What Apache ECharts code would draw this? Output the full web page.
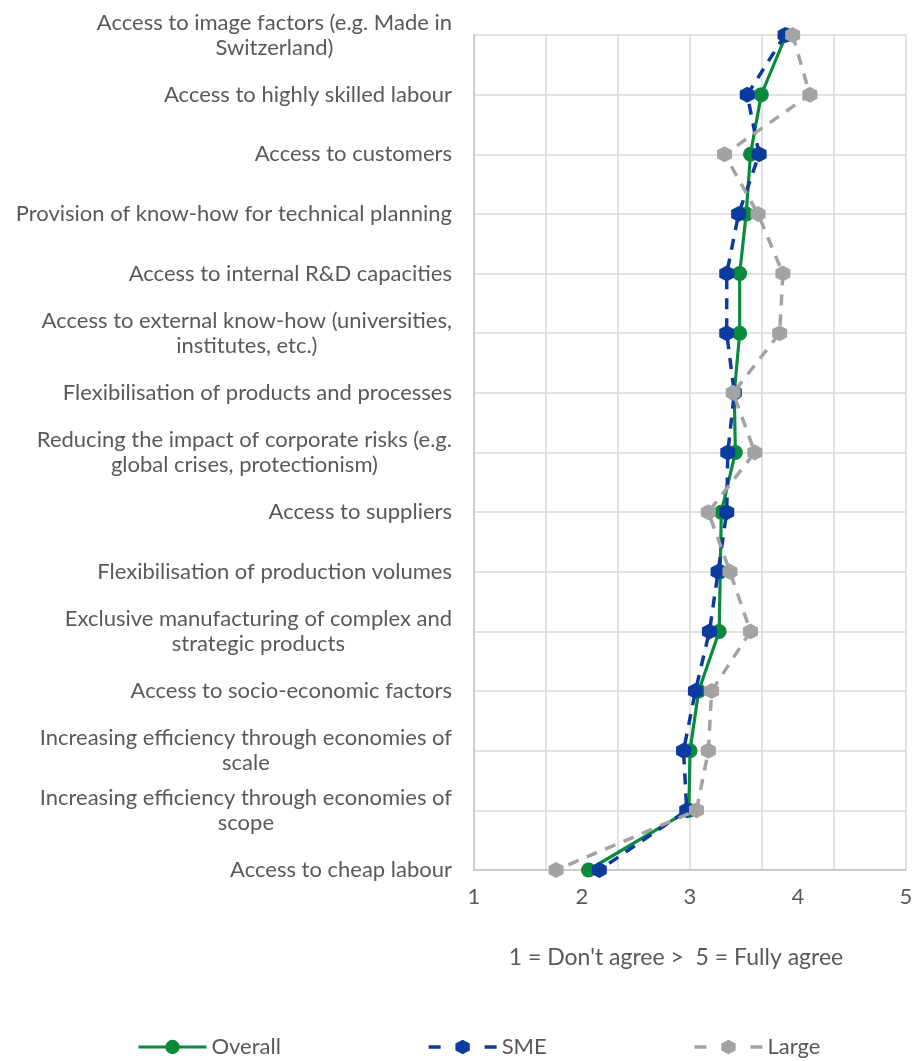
<!DOCTYPE html>
<html>
<head>
<meta charset="utf-8">
<style>
  html, body { margin: 0; padding: 0; background: #ffffff; }
  #chart { width: 916px; height: 1061px; }
</style>
<script src="https://cdn.jsdelivr.net/npm/echarts@6/dist/echarts.min.js"></script>
</head>
<body>
<div id="chart"></div>
<script>
// Location factors, listed top to bottom
const categories = [
  'Access to image factors (e.g. Made in\nSwitzerland)',
  'Access to highly skilled labour',
  'Access to customers',
  'Provision of know-how for technical planning',
  'Access to internal R&D capacities',
  'Access to external know-how (universities,\ninstitutes, etc.)',
  'Flexibilisation of products and processes',
  'Reducing the impact of corporate risks (e.g.\nglobal crises, protectionism)',
  'Access to suppliers',
  'Flexibilisation of production volumes',
  'Exclusive manufacturing of complex and\nstrategic products',
  'Access to socio-economic factors',
  'Increasing efficiency through economies of\nscale',
  'Increasing efficiency through economies of\nscope',
  'Access to cheap labour'
];

// Mean agreement scores (1 = don't agree, 5 = fully agree)
const overallValues = [3.89, 3.66, 3.56, 3.52, 3.46, 3.46, 3.41, 3.42, 3.29, 3.28, 3.27, 3.08, 3.00, 2.99, 2.06];
const smeValues     = [3.88, 3.53, 3.64, 3.45, 3.34, 3.34, 3.41, 3.35, 3.34, 3.26, 3.18, 3.05, 2.94, 2.97, 2.16];
const largeValues   = [3.95, 4.11, 3.32, 3.63, 3.86, 3.83, 3.40, 3.60, 3.17, 3.37, 3.56, 3.20, 3.17, 3.06, 1.76];

const seriesNames = ['Overall', 'SME', 'Large'];
const scaleTicks = ['1', '2', '3', '4', '5'];
const scaleCaption = "1 = Don't agree >  5 = Fully agree";

const FONT = 'Lato, "Open Sans", sans-serif';
const TEXT = '#595959';
const GREEN = '#0a8a3c';
const BLUE = '#0c3b9f';
const GREY = '#a3a3a3';
const HEX = 'path://M0,-10 L8.66,-5 L8.66,5 L0,10 L-8.66,5 L-8.66,-5 Z';

const chart = echarts.init(document.getElementById('chart'), null, { renderer: 'canvas' });

// values go on the horizontal axis, categories on the vertical one
const pairs = values => values.map((v, i) => [v, categories[i]]);

chart.setOption({
  backgroundColor: '#ffffff',
  animation: false,
  grid: { left: 474, right: 10, top: 35, bottom: 191, containLabel: false },
  xAxis: [
    {
      type: 'value', min: 1, max: 5, interval: 1,
      axisLine: { show: true, lineStyle: { color: '#c4c4c4', width: 1.5 } },
      axisTick: { show: false },
      splitLine: { show: false },
      axisLabel: {
        margin: 16, color: TEXT, fontSize: 22, fontFamily: FONT,
        formatter: v => scaleTicks[Math.round(v) - 1]
      }
    },
    {
      // finer vertical gridlines spanning the plot
      type: 'value', min: 0, max: 6, interval: 1, position: 'bottom',
      axisLine: { show: false }, axisTick: { show: false },
      axisLabel: { show: false },
      splitLine: { show: true, lineStyle: { color: '#d9d9d9', width: 1.5 } }
    }
  ],
  yAxis: {
    type: 'category',
    data: categories,
    inverse: true,
    boundaryGap: false,
    axisLine: { show: true, lineStyle: { color: '#c4c4c4', width: 1.5 } },
    axisTick: { show: false },
    splitLine: { show: true, lineStyle: { color: '#d9d9d9', width: 1.5 } },
    axisLabel: {
      margin: 22,
      interval: 0,
      formatter: v => v.split('\n').map(l => '{c|' + l + '}').join('\n'),
      rich: {
        c: { align: 'center', color: TEXT, fontSize: 22, fontFamily: FONT, lineHeight: 25 }
      }
    }
  },
  legend: {
    left: 132, top: 1031,
    itemWidth: 68, itemHeight: 18, itemGap: 146,
    textStyle: { color: TEXT, fontSize: 22, fontFamily: FONT },
    data: [
      { name: seriesNames[0], lineStyle: { width: 3 } },
      { name: seriesNames[1], lineStyle: { width: 3.5, type: [12, 44] } },
      { name: seriesNames[2], lineStyle: { width: 3.5, type: [12, 44] } }
    ]
  },
  graphic: [{
    type: 'text', x: 676, y: 958,
    style: { text: scaleCaption, fill: TEXT, font: '23px ' + FONT, textAlign: 'center', textVerticalAlign: 'middle' }
  }],
  series: [
    {
      name: seriesNames[0], type: 'line', data: pairs(overallValues), xAxisIndex: 0,
      symbol: 'circle', symbolSize: 15, z: 3,
      lineStyle: { color: GREEN, width: 3.2 },
      itemStyle: { color: GREEN }
    },
    {
      name: seriesNames[1], type: 'line', data: pairs(smeValues), xAxisIndex: 0,
      symbol: HEX, symbolSize: [15, 16], z: 4,
      lineStyle: { color: BLUE, width: 3.5, type: [11, 9] },
      itemStyle: { color: BLUE }
    },
    {
      name: seriesNames[2], type: 'line', data: pairs(largeValues), xAxisIndex: 0,
      symbol: HEX, symbolSize: [15, 16], z: 5,
      lineStyle: { color: GREY, width: 3.5, type: [11, 9] },
      itemStyle: { color: GREY }
    }
  ]
});
</script>
</body>
</html>
